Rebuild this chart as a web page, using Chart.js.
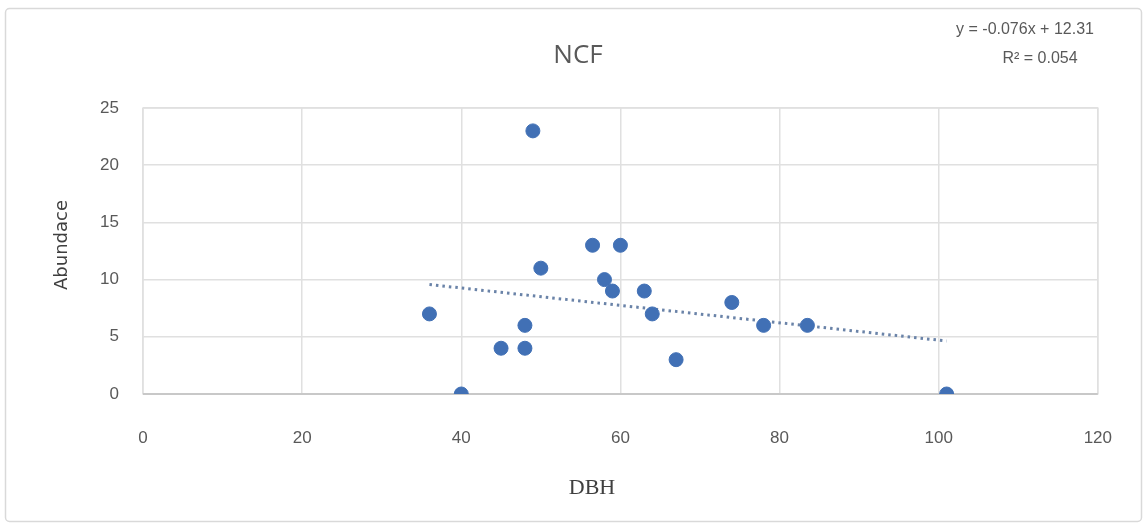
<!DOCTYPE html>
<html>
<head>
<meta charset="utf-8">
<script src="https://cdn.jsdelivr.net/npm/chart.js@4.4.1/dist/chart.umd.min.js"></script>
<style>
  html, body { margin: 0; padding: 0; background: #fff; }
  #wrap { width: 1146px; height: 529px; }
</style>
</head>
<body>
<div id="wrap"><canvas id="ncf"></canvas></div>
<script>
// values
const dbh = [36, 40, 45, 48, 48, 49, 50, 56.5, 58, 59, 60, 63, 64, 67, 74, 78, 83.5, 101];
const abundance = [7, 0, 4, 4, 6, 23, 11, 13, 10, 9, 13, 9, 7, 3, 8, 6, 6, 0];
const trendX = [36, 101];
const trendY = [9.57, 4.63];
const xTicks = [0, 20, 40, 60, 80, 100, 120];
const yTicks = [0, 5, 10, 15, 20, 25];

const points = dbh.map((x, i) => ({ x: x, y: abundance[i] }));
const trend = trendX.map((x, i) => ({ x: x, y: trendY[i] }));

const textPlugin = {
  id: 'texts',
  beforeDraw(chart) {
    const ctx = chart.ctx;
    ctx.save();
    ctx.strokeStyle = '#d9d9d9';
    ctx.lineWidth = 1.5;
    ctx.beginPath();
    ctx.roundRect(5.5, 8.5, 1136, 513, 4);
    ctx.stroke();
    const a = chart.chartArea;
    ctx.strokeStyle = '#e3e3e3';
    ctx.lineWidth = 1.5;
    ctx.strokeRect(a.left, a.top, a.right - a.left, a.bottom - a.top);
    ctx.restore();
  },
  afterDraw(chart) {
    const ctx = chart.ctx;
    ctx.save();
    ctx.fillStyle = '#595959';
    ctx.textAlign = 'center';
    ctx.textBaseline = 'middle';
    ctx.font = '26px "Open Sans", sans-serif';
    ctx.fillText('NCF', 578, 56);

    ctx.font = '16px "Liberation Sans", sans-serif';
    ctx.fillText('y = -0.076x + 12.31', 1025, 30);
    ctx.fillText('R\u00b2 = 0.054', 1040, 59);

    ctx.fillStyle = '#404040';
    ctx.font = '22px "Liberation Serif", serif';
    ctx.fillText('DBH', 592, 488);

    ctx.translate(62, 245);
    ctx.rotate(-Math.PI / 2);
    ctx.fillStyle = '#3f3f3f';
    ctx.font = '18px "DejaVu Sans", sans-serif';
    ctx.fillText('Abundace', 0, 0);
    ctx.restore();
  }
};

new Chart(document.getElementById('ncf'), {
  type: 'scatter',
  data: {
    datasets: [
      {
        label: 'Abundace',
        data: points,
        backgroundColor: '#4170b5',
        borderColor: '#4170b5',
        pointRadius: 7,
        pointHoverRadius: 7,
        order: 1
      },
      {
        label: 'Trend',
        type: 'line',
        data: trend,
        borderColor: '#6a83a8',
        borderWidth: 3,
        borderDash: [2.5, 4],
        pointRadius: 0,
        fill: false,
        order: 2
      }
    ]
  },
  options: {
    responsive: true,
    maintainAspectRatio: false,
    animation: false,
    layout: { padding: { left: 10, right: 46, top: 108, bottom: 10 } },
    plugins: {
      legend: { display: false },
      tooltip: { enabled: false }
    },
    scales: {
      x: {
        type: 'linear',
        min: 0,
        max: 120,
        afterBuildTicks: s => { s.ticks = xTicks.map(v => ({ value: v })); },
        afterFit: s => { s.height = 125; },
        grid: { color: '#e0e0e0', lineWidth: 1.5, drawTicks: false },
        border: { display: false },
        ticks: {
          color: '#595959',
          padding: 34,
          maxRotation: 0,
          font: { family: '"Liberation Sans", sans-serif', size: 17 }
        }
      },
      y: {
        min: 0,
        max: 25,
        afterBuildTicks: s => { s.ticks = yTicks.map(v => ({ value: v })); },
        afterFit: s => { s.width = 133; },
        grid: {
          color: ctx => ctx.tick.value === 0 ? '#c8c8c8' : '#e0e0e0',
          lineWidth: ctx => ctx.tick.value === 0 ? 2 : 1.5,
          drawTicks: false
        },
        border: { display: false },
        ticks: {
          color: '#595959',
          padding: 24,
          font: { family: '"Liberation Sans", sans-serif', size: 17 }
        }
      }
    }
  },
  plugins: [textPlugin]
});
</script>
</body>
</html>
